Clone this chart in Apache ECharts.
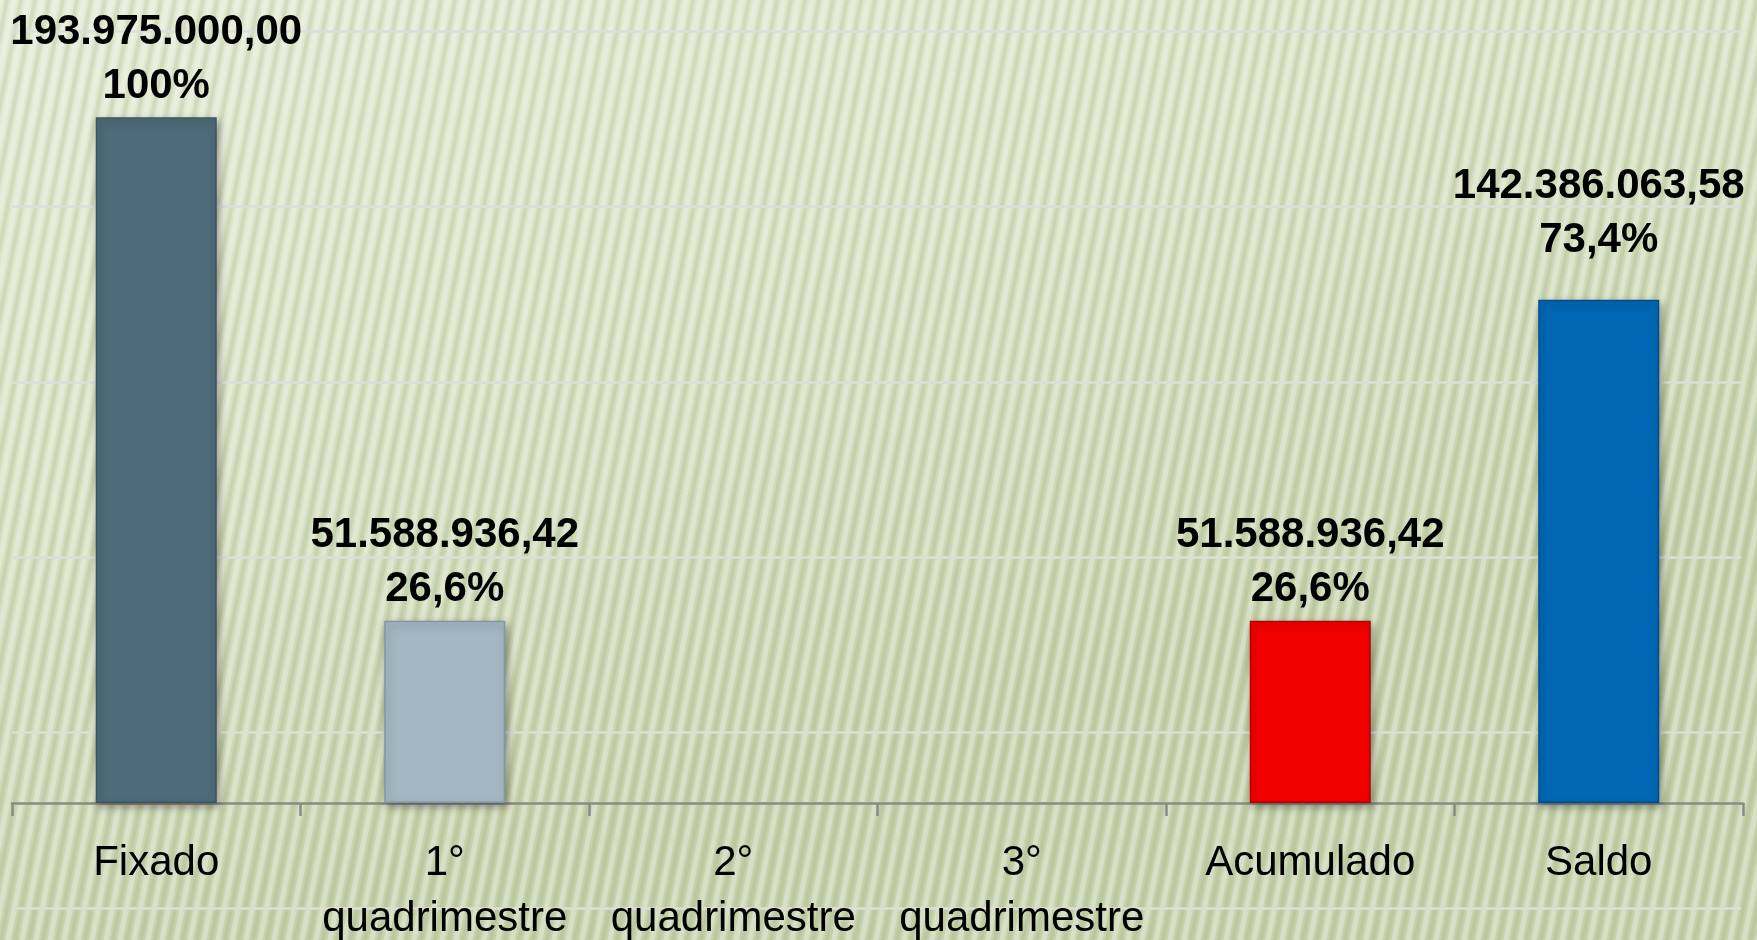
<!DOCTYPE html>
<html>
<head>
<meta charset="utf-8">
<style>
  html, body { margin: 0; padding: 0; width: 1757px; height: 940px; overflow: hidden; }
  #chart { width: 1757px; height: 940px; }
</style>
<script src="https://cdn.jsdelivr.net/npm/echarts@6/dist/echarts.min.js"></script>
</head>
<body>
<div id="chart"></div>
<script>
// ---- data ----
const categories = ['Fixado', '1°\nquadrimestre', '2°\nquadrimestre', '3°\nquadrimestre', 'Acumulado', 'Saldo'];
const values = [193975000.00, 51588936.42, null, null, 51588936.42, 142386063.58];
const percentLabels = ['100%', '26,6%', '', '', '26,6%', '73,4%'];
const barColors = ['#4d6b78', '#a4b8c3', '#a4b8c3', '#a4b8c3', '#f20000', '#0067b4'];
const barBorders = ['#3c5662', '#7f98a4', '#7f98a4', '#7f98a4', '#b80000', '#004f8c'];
const bgLineTicks = [0, 1, 2, 3, 4, 5];

function fmtBR(v) {
  const parts = v.toFixed(2).split('.');
  const intPart = parts[0].replace(/\B(?=(\d{3})+(?!\d))/g, '.');
  return intPart + ',' + parts[1];
}

// stripe pattern tile for the slide background
function makeStripeTile() {
  const w = 14, h = 70;
  const c = document.createElement('canvas');
  c.width = w; c.height = h;
  const ctx = c.getContext('2d');
  ctx.lineWidth = 5;
  for (let k = -2; k <= 2; k++) {
    ctx.strokeStyle = 'rgba(255,255,255,0.30)';
    ctx.beginPath();
    ctx.moveTo(k * w, h);
    ctx.lineTo(k * w + w, 0);
    ctx.stroke();
  }
  ctx.lineWidth = 4;
  for (let k = -2; k <= 2; k++) {
    ctx.strokeStyle = 'rgba(110,130,80,0.12)';
    ctx.beginPath();
    ctx.moveTo(k * w + 7, h);
    ctx.lineTo(k * w + 7 + w, 0);
    ctx.stroke();
  }
  return c;
}

const FONT = '"Liberation Sans", Arial, sans-serif';

const chart = echarts.init(document.getElementById('chart'), null, { renderer: 'canvas' });

const seriesData = values.map((v, i) => {
  const item = {
    value: v,
    itemStyle: { color: barColors[i], borderColor: barBorders[i] }
  };
  if (i === 5) item.label = { distance: 32 };
  return item;
});

const option = {
  backgroundColor: {
    type: 'linear', x: 0, y: 0, x2: 0.15, y2: 1,
    colorStops: [
      { offset: 0, color: '#e4ead3' },
      { offset: 0.5, color: '#d9e1c3' },
      { offset: 1, color: '#c6d2ab' }
    ]
  },
  animation: false,
  graphic: [{
    type: 'rect',
    z: -10,
    silent: true,
    shape: { x: 0, y: 0, width: 1757, height: 940 },
    style: { fill: { image: makeStripeTile(), repeat: 'repeat' } }
  }],
  grid: [
    { left: 12, right: 14, top: 96, bottom: 137, containLabel: false, outerBoundsMode: 'none' },
    { left: 12, right: 16, top: 31, bottom: 32, containLabel: false, outerBoundsMode: 'none' }
  ],
  xAxis: [
    {
      type: 'category',
      gridIndex: 0,
      data: categories,
      axisLine: { show: true, lineStyle: { color: '#8a8a8a', width: 2.5 } },
      axisTick: { show: true, length: 13, lineStyle: { color: '#8a8a8a', width: 2.5 } },
      axisLabel: {
        interval: 0,
        margin: 32,
        color: '#000000',
        fontSize: 42,
        lineHeight: 56,
        fontFamily: FONT
      },
      splitLine: { show: false },
      z: 3
    },
    {
      type: 'value',
      gridIndex: 1,
      show: false,
      min: 0, max: 1
    }
  ],
  yAxis: [
    {
      type: 'value',
      gridIndex: 0,
      min: 0,
      max: 200000000,
      show: false,
      splitLine: { show: false }
    },
    {
      type: 'value',
      gridIndex: 1,
      min: bgLineTicks[0],
      max: bgLineTicks[bgLineTicks.length - 1],
      interval: 1,
      axisLine: { show: false },
      axisTick: { show: false },
      axisLabel: { show: false },
      splitLine: { show: true, lineStyle: { color: '#dcdeda', width: 2.5 } }
    }
  ],
  series: [
    {
      type: 'bar',
      xAxisIndex: 0,
      yAxisIndex: 0,
      data: seriesData,
      barWidth: 121,
      itemStyle: {
        borderWidth: 1.5,
        shadowBlur: 8,
        shadowOffsetX: 2,
        shadowOffsetY: 4,
        shadowColor: 'rgba(0,0,0,0.35)'
      },
      label: {
        show: true,
        position: 'top',
        distance: 4,
        color: '#000000',
        fontSize: 42,
        fontWeight: 'bold',
        lineHeight: 54,
        align: 'center',
        fontFamily: FONT,
        formatter: function (p) {
          if (p.value == null) return '';
          return fmtBR(p.value) + '\n' + percentLabels[p.dataIndex];
        }
      },
      z: 4
    }
  ]
};

chart.setOption(option);
</script>
</body>
</html>
